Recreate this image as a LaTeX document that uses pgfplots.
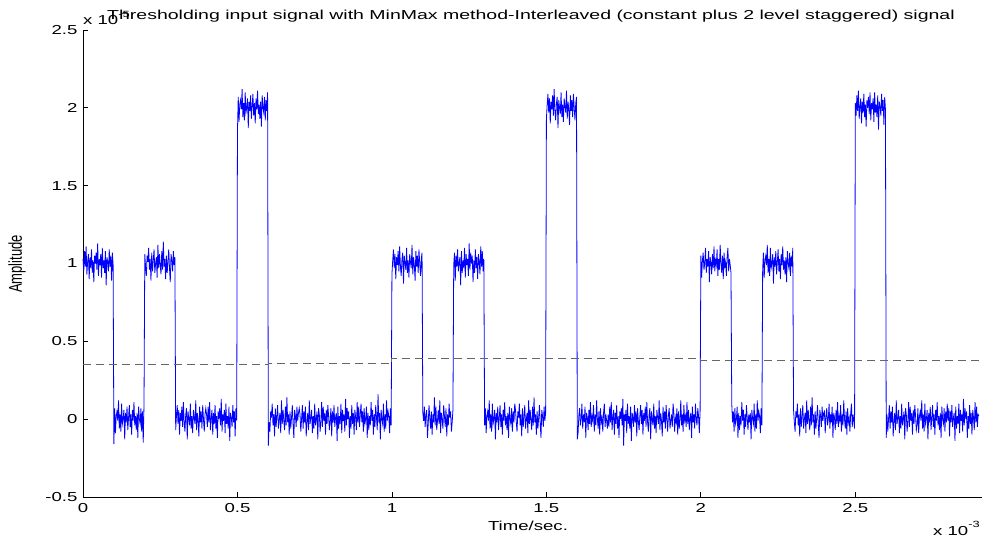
\documentclass[border=0pt]{standalone}
\usepackage{pgfplots}
\pgfplotsset{compat=1.18}
\usepackage{graphicx}
\usepackage{fontspec}
\setmainfont{Liberation Sans}
\newcommand\sx[1]{\scalebox{1.43}[1]{#1}}
\begin{document}
\begin{tikzpicture}
\begin{axis}[
  scale only axis, width=899pt, height=467pt,
  xmin=0, xmax=2.91, ymin=-0.5, ymax=2.5,
  axis x line*=bottom, axis y line*=left,
  axis line style={-, black, line width=0.8pt},
  tick align=inside, major tick length=5pt,
  tick style={black, line width=0.8pt},
  xtick={0,0.5,1,1.5,2,2.5},
  xticklabels={\sx{0},\sx{0.5},\sx{1},\sx{1.5},\sx{2},\sx{2.5}},
  ytick={-0.5,0,0.5,1,1.5,2,2.5},
  yticklabels={\sx{-0.5},\sx{0},\sx{0.5},\sx{1},\sx{1.5},\sx{2},\sx{2.5}},
  tick label style={font=\fontsize{13}{15}\selectfont},
  xticklabel style={yshift=-3pt},
  yticklabel style={xshift=-2pt},
  clip=false,
]
\addplot[blue, line width=0.8pt] table[row sep=\\, x expr=\coordindex*0.0025, y index=0] {
y\\
1.03\\0.95\\1.08\\0.98\\1.11\\0.93\\1.01\\1.06\\0.90\\1.04\\0.97\\1.09\\0.94\\1.02\\0.88\\1.05\\1.00\\1.07\\0.96\\1.13\\0.92\\1.03\\0.99\\1.06\\0.91\\1.10\\0.97\\1.02\\0.94\\1.08\\0.86\\1.04\\1.01\\0.95\\1.09\\0.98\\1.05\\0.89\\1.07\\0.99\\
-0.16\\0.07\\-0.09\\0.02\\0.05\\-0.01\\0.12\\-0.06\\0.03\\-0.08\\0.10\\-0.03\\0.00\\0.06\\-0.13\\0.04\\-0.02\\0.08\\-0.07\\0.01\\0.09\\-0.05\\0.03\\-0.10\\0.06\\-0.01\\0.11\\-0.04\\0.02\\-0.07\\0.04\\-0.12\\0.08\\0.00\\-0.03\\0.07\\-0.08\\0.05\\-0.15\\0.10\\
1.06\\0.98\\0.92\\1.05\\1.01\\1.10\\0.96\\1.03\\0.89\\1.07\\0.95\\1.02\\1.09\\0.94\\1.00\\1.04\\0.91\\1.12\\0.97\\1.06\\0.99\\0.93\\1.08\\0.96\\1.14\\0.98\\1.03\\0.90\\1.05\\0.94\\1.01\\1.09\\0.97\\0.88\\1.06\\1.02\\0.95\\1.08\\0.99\\1.04\\
-0.07\\0.02\\0.09\\-0.03\\0.06\\-0.10\\0.04\\-0.01\\0.08\\-0.05\\0.11\\-0.02\\-0.08\\0.03\\0.07\\-0.13\\0.05\\0.00\\-0.04\\0.10\\-0.06\\0.02\\-0.09\\0.06\\0.01\\-0.03\\0.12\\-0.07\\0.04\\-0.01\\-0.11\\0.08\\-0.02\\0.05\\-0.06\\0.09\\0.00\\-0.08\\0.03\\0.07\\
0.03\\-0.05\\0.08\\-0.02\\0.11\\-0.07\\0.01\\0.06\\-0.10\\0.04\\-0.03\\0.09\\-0.06\\0.02\\-0.12\\0.05\\0.00\\0.07\\-0.04\\0.13\\-0.08\\0.03\\-0.01\\0.06\\-0.09\\0.10\\-0.03\\0.02\\-0.06\\0.08\\-0.14\\0.04\\0.01\\-0.05\\0.09\\-0.02\\0.05\\-0.11\\0.07\\-0.01\\
1.85\\2.07\\1.91\\2.02\\2.05\\1.99\\2.12\\1.94\\2.03\\1.92\\2.10\\1.97\\2.00\\2.06\\1.87\\2.04\\1.98\\2.08\\1.93\\2.01\\2.09\\1.95\\2.03\\1.90\\2.06\\1.99\\2.11\\1.96\\2.02\\1.93\\2.04\\1.88\\2.08\\2.00\\1.97\\2.07\\1.92\\2.05\\1.98\\2.10\\
-0.17\\-0.02\\-0.08\\0.05\\0.01\\0.10\\-0.04\\0.03\\-0.11\\0.07\\-0.05\\0.02\\0.09\\-0.06\\0.00\\0.04\\-0.09\\0.12\\-0.03\\0.06\\-0.01\\-0.07\\0.08\\-0.04\\0.14\\-0.02\\0.03\\-0.10\\0.05\\-0.06\\0.01\\0.09\\-0.03\\-0.12\\0.06\\0.02\\-0.05\\0.08\\-0.01\\0.04\\
0.07\\0.03\\-0.08\\0.00\\0.09\\-0.06\\0.05\\-0.02\\0.08\\-0.11\\-0.01\\0.04\\-0.07\\0.12\\-0.03\\0.01\\0.06\\-0.09\\0.02\\-0.06\\0.10\\-0.04\\0.00\\0.05\\-0.13\\0.07\\0.03\\-0.08\\-0.02\\0.11\\-0.05\\0.08\\-0.01\\0.04\\-0.10\\0.06\\-0.03\\0.09\\0.02\\-0.07\\
-0.01\\0.07\\-0.11\\0.05\\-0.02\\0.09\\-0.05\\0.01\\0.04\\-0.14\\0.08\\-0.06\\0.02\\-0.03\\0.10\\-0.09\\0.06\\-0.01\\0.03\\-0.08\\0.13\\-0.04\\0.07\\0.00\\0.05\\-0.12\\0.02\\-0.06\\0.09\\-0.03\\0.04\\-0.10\\0.06\\0.01\\-0.07\\0.11\\-0.02\\0.08\\-0.05\\0.03\\
0.10\\-0.02\\0.05\\-0.08\\0.07\\-0.03\\0.00\\0.08\\-0.12\\0.04\\-0.07\\0.02\\-0.04\\0.11\\-0.01\\0.06\\-0.10\\0.03\\-0.05\\0.09\\0.01\\-0.07\\0.16\\-0.02\\0.04\\-0.13\\0.06\\0.00\\-0.03\\0.10\\-0.08\\0.03\\-0.06\\0.12\\-0.01\\0.05\\0.02\\-0.09\\0.07\\-0.04\\
0.93\\1.02\\1.09\\0.97\\1.06\\0.90\\1.04\\0.99\\1.08\\0.95\\1.11\\0.98\\0.92\\1.03\\1.07\\0.87\\1.05\\1.00\\0.96\\1.10\\0.94\\1.02\\0.91\\1.06\\1.01\\0.97\\1.12\\0.93\\1.04\\0.99\\0.89\\1.08\\0.98\\1.05\\0.94\\1.09\\1.00\\0.92\\1.03\\1.07\\
0.04\\-0.01\\0.08\\-0.05\\0.02\\0.06\\-0.12\\-0.03\\0.09\\0.01\\-0.06\\0.05\\-0.10\\0.03\\-0.02\\0.14\\-0.04\\0.08\\-0.07\\-0.01\\0.06\\-0.03\\0.12\\-0.09\\0.04\\0.00\\-0.06\\0.09\\0.02\\-0.05\\0.07\\-0.11\\0.03\\-0.04\\0.10\\0.01\\0.05\\-0.08\\-0.02\\0.06\\
0.99\\1.07\\0.89\\1.05\\0.98\\1.09\\0.95\\1.01\\1.04\\0.86\\1.08\\0.94\\1.02\\0.97\\1.10\\0.91\\1.06\\0.99\\1.03\\0.92\\1.13\\0.96\\1.07\\1.00\\1.05\\0.88\\1.02\\0.94\\1.09\\0.97\\1.04\\0.90\\1.06\\1.01\\0.93\\1.11\\0.98\\1.08\\0.95\\1.03\\
-0.04\\0.07\\-0.09\\0.02\\0.05\\-0.01\\0.12\\-0.06\\0.03\\-0.08\\0.10\\-0.03\\0.00\\0.06\\-0.13\\0.04\\-0.02\\0.08\\-0.07\\0.01\\0.09\\-0.05\\0.03\\-0.10\\0.06\\-0.01\\0.11\\-0.04\\0.02\\-0.07\\0.04\\-0.12\\0.08\\0.00\\-0.03\\0.07\\-0.08\\0.05\\-0.02\\0.10\\
0.06\\-0.02\\-0.08\\0.05\\0.01\\0.10\\-0.04\\0.03\\-0.11\\0.07\\-0.05\\0.02\\0.09\\-0.06\\0.00\\0.04\\-0.09\\0.12\\-0.03\\0.06\\-0.01\\-0.07\\0.08\\-0.04\\0.14\\-0.02\\0.03\\-0.10\\0.05\\-0.06\\0.01\\0.09\\-0.03\\-0.12\\0.06\\0.02\\-0.05\\0.08\\-0.01\\0.04\\
1.93\\2.02\\2.09\\1.97\\2.06\\1.90\\2.04\\1.99\\2.08\\1.95\\2.12\\1.98\\1.92\\2.03\\2.07\\1.87\\2.05\\2.00\\1.96\\2.10\\1.94\\2.02\\1.91\\2.06\\2.01\\1.97\\2.11\\1.93\\2.04\\1.99\\1.89\\2.08\\1.98\\2.05\\1.94\\2.09\\2.00\\1.92\\2.03\\2.07\\
-0.13\\-0.09\\0.02\\0.07\\-0.04\\0.00\\0.10\\-0.06\\0.03\\-0.02\\0.08\\-0.12\\0.04\\0.01\\-0.07\\0.06\\-0.03\\0.11\\-0.05\\0.02\\-0.01\\0.09\\-0.08\\0.03\\-0.04\\0.12\\0.00\\-0.06\\0.05\\-0.10\\0.07\\-0.02\\0.01\\-0.08\\0.04\\0.10\\-0.05\\0.03\\-0.01\\-0.06\\
0.03\\-0.05\\0.08\\-0.02\\0.11\\-0.07\\0.01\\0.06\\-0.10\\0.04\\-0.03\\0.09\\-0.06\\0.02\\-0.12\\0.05\\0.00\\0.07\\-0.04\\0.13\\-0.17\\0.03\\-0.01\\0.06\\-0.09\\0.10\\-0.03\\0.02\\-0.06\\0.08\\-0.14\\0.04\\0.01\\-0.05\\0.09\\-0.02\\0.05\\-0.11\\0.07\\-0.01\\
-0.07\\0.02\\0.09\\-0.03\\0.06\\-0.10\\0.04\\-0.01\\0.08\\-0.05\\0.11\\-0.02\\-0.08\\0.03\\0.07\\-0.13\\0.05\\0.00\\-0.04\\0.10\\-0.06\\0.02\\-0.09\\0.06\\0.01\\-0.03\\0.12\\-0.07\\0.04\\-0.01\\-0.11\\0.08\\-0.02\\0.05\\-0.06\\0.09\\0.00\\-0.08\\0.03\\0.07\\
-0.06\\-0.01\\0.03\\-0.05\\0.10\\0.04\\-0.08\\0.01\\-0.02\\0.07\\-0.10\\0.05\\-0.06\\0.00\\0.12\\-0.04\\0.03\\-0.08\\0.09\\-0.01\\0.02\\-0.05\\0.11\\-0.03\\0.06\\-0.07\\0.01\\0.04\\-0.12\\0.08\\-0.02\\0.03\\-0.06\\0.10\\0.00\\-0.04\\0.07\\0.02\\-0.09\\0.05\\
1.05\\0.91\\1.02\\1.07\\0.96\\1.00\\1.10\\0.94\\1.03\\0.98\\1.08\\0.88\\1.04\\1.01\\0.93\\1.06\\0.97\\1.11\\0.95\\1.02\\0.99\\1.09\\0.92\\1.03\\0.96\\1.12\\1.00\\0.94\\1.05\\0.90\\1.07\\0.98\\1.01\\0.92\\1.04\\1.10\\0.95\\1.03\\0.99\\0.94\\
0.10\\-0.02\\0.05\\-0.08\\0.07\\-0.03\\0.00\\0.08\\-0.12\\0.04\\-0.07\\0.02\\-0.04\\0.11\\-0.01\\0.06\\-0.10\\0.03\\-0.05\\0.09\\0.01\\-0.07\\0.03\\-0.02\\0.04\\-0.13\\0.06\\0.00\\-0.03\\0.10\\-0.08\\0.03\\-0.06\\0.12\\-0.01\\0.05\\0.02\\-0.09\\0.07\\-0.04\\
0.96\\1.07\\0.91\\1.02\\1.05\\0.99\\1.12\\0.94\\1.03\\0.92\\1.10\\0.97\\1.00\\1.06\\0.87\\1.04\\0.98\\1.08\\0.93\\1.01\\1.09\\0.95\\1.03\\0.90\\1.06\\0.99\\1.11\\0.96\\1.02\\0.93\\1.04\\0.88\\1.08\\1.00\\0.97\\1.07\\0.92\\1.05\\0.98\\1.10\\
0.06\\-0.02\\-0.08\\0.05\\0.01\\0.10\\-0.04\\0.03\\-0.11\\0.07\\-0.05\\0.02\\0.09\\-0.06\\0.00\\0.04\\-0.09\\0.12\\-0.03\\0.06\\-0.01\\-0.07\\0.08\\-0.04\\0.14\\-0.02\\0.03\\-0.10\\0.05\\-0.06\\0.01\\0.09\\-0.03\\-0.12\\0.06\\0.02\\-0.05\\0.08\\-0.01\\0.04\\
0.05\\-0.09\\0.02\\0.07\\-0.04\\0.00\\0.10\\-0.06\\0.03\\-0.02\\0.08\\-0.12\\0.04\\0.01\\-0.07\\0.06\\-0.03\\0.11\\-0.05\\0.02\\-0.01\\0.09\\-0.08\\0.03\\-0.04\\0.12\\0.00\\-0.06\\0.05\\-0.10\\0.07\\-0.02\\0.01\\-0.08\\0.04\\0.10\\-0.05\\0.03\\-0.01\\-0.06\\
2.03\\1.95\\2.08\\1.98\\2.11\\1.93\\2.01\\2.06\\1.90\\2.04\\1.97\\2.09\\1.94\\2.02\\1.88\\2.05\\2.00\\2.07\\1.96\\2.10\\1.92\\2.03\\1.99\\2.06\\1.91\\2.10\\1.97\\2.02\\1.94\\2.08\\1.86\\2.04\\2.01\\1.95\\2.09\\1.98\\2.05\\1.89\\2.07\\1.99\\
-0.12\\0.03\\-0.08\\0.00\\0.09\\-0.06\\0.05\\-0.02\\0.08\\-0.11\\-0.01\\0.04\\-0.07\\0.12\\-0.03\\0.01\\0.06\\-0.09\\0.02\\-0.06\\0.10\\-0.04\\0.00\\0.05\\-0.13\\0.07\\0.03\\-0.08\\-0.02\\0.11\\-0.05\\0.08\\-0.01\\0.04\\-0.10\\0.06\\-0.03\\0.09\\0.02\\-0.07\\
-0.04\\0.07\\-0.09\\0.02\\0.05\\-0.01\\0.12\\-0.06\\0.03\\-0.08\\0.10\\-0.03\\0.00\\0.06\\-0.13\\0.04\\-0.02\\0.08\\-0.07\\0.01\\0.09\\-0.05\\0.03\\-0.10\\0.06\\-0.01\\0.11\\-0.04\\0.02\\-0.07\\0.04\\-0.12\\0.08\\0.00\\-0.03\\0.07\\-0.08\\0.05\\-0.02\\0.10\\
-0.01\\0.07\\-0.11\\0.05\\-0.02\\0.09\\-0.05\\0.01\\0.04\\-0.14\\0.08\\-0.06\\0.02\\-0.03\\0.10\\-0.09\\0.06\\-0.01\\0.03\\-0.08\\0.13\\-0.04\\0.07\\0.00\\0.05\\-0.12\\0.02\\-0.06\\0.09\\-0.03\\0.04\\-0.10\\0.06\\0.01\\-0.07\\0.11\\-0.02\\0.08\\-0.05\\0.03\\
0.02\\
};
\addplot[black!60, line width=0.9pt, dash pattern=on 8pt off 5pt] coordinates {
(0,0.35) (0.6,0.35) (0.6,0.355) (1.0,0.355) (1.0,0.39) (2.0,0.39) (2.0,0.38) (2.5,0.38) (2.5,0.375) (2.91,0.375)
};
\end{axis}
\node[anchor=base, inner sep=0pt, font=\fontsize{13}{15}\selectfont] at ([shift={(448pt,477pt)}]current axis.south west)
  {\scalebox{1.5}[1]{Thresholding input signal with MinMax method-Interleaved (constant plus 2 level staggered) signal}};
\node[anchor=base, inner sep=0pt, font=\fontsize{13}{15}\selectfont] at ([shift={(445pt,-33pt)}]current axis.south west)
  {\sx{Time/sec.}};
\node[rotate=90, anchor=center, inner sep=0pt, font=\fontsize{13}{15}\selectfont] at ([shift={(-66pt,233pt)}]current axis.south west)
  {\scalebox{1}[1.43]{Amplitude}};
\node[anchor=base west, inner sep=0pt, font=\fontsize{13}{15}\selectfont] at ([shift={(0pt,472pt)}]current axis.south west)
  {\sx{x 10\raisebox{0.6em}{\fontsize{9}{9}\selectfont -5}}};
\node[anchor=base west, inner sep=0pt, font=\fontsize{13}{15}\selectfont] at ([shift={(850pt,-38pt)}]current axis.south west)
  {\sx{x 10\raisebox{0.6em}{\fontsize{9}{9}\selectfont -3}}};
\pgfresetboundingbox
\path[use as bounding box] (current axis.south west) ++(-83pt,-47pt) rectangle ++(986pt,544pt);
\end{tikzpicture}
\end{document}
